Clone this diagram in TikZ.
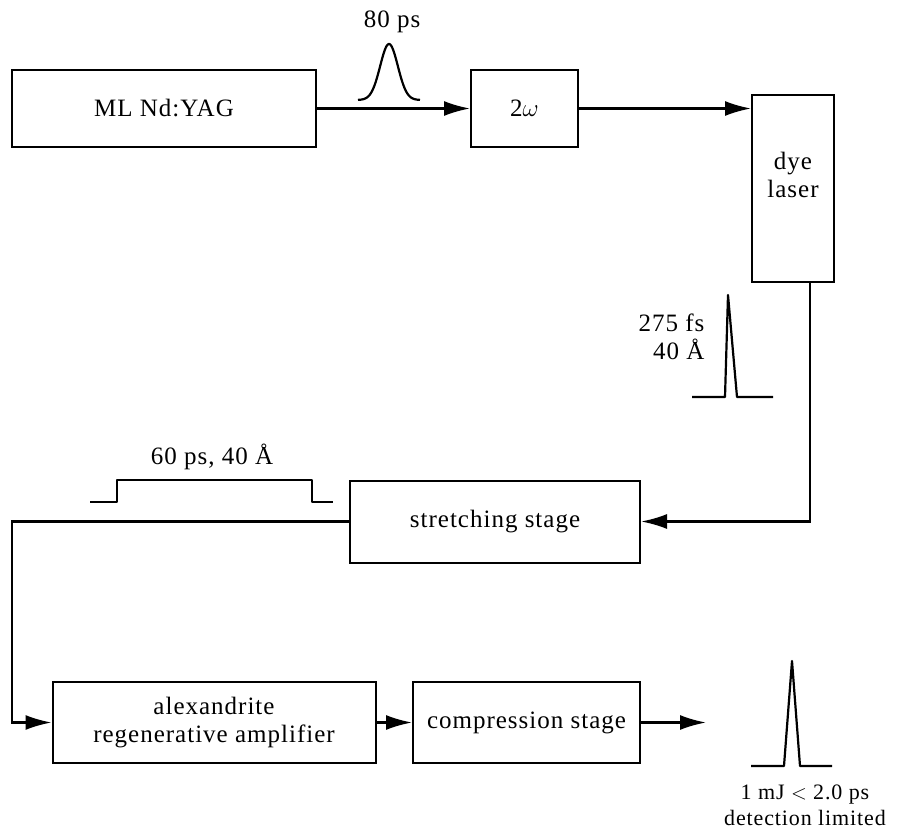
\documentclass[tikz,border=0pt]{standalone}
\usepackage{fontspec}
\setmainfont[LetterSpace=4]{Liberation Serif}
\usetikzlibrary{arrows.meta}

\begin{document}
\begin{tikzpicture}[x=1pt, y=-1pt,
                   every node/.style={font=\fontsize{25}{28}\selectfont, align=center},
                   box/.style={draw=black, line width=2pt, inner sep=0pt},
                   flow/.style={line width=2.2pt, -{Latex[length=26pt, width=15pt]}},
                   pulse/.style={line width=2.2pt, line join=round}]
\useasboundingbox (0,0) rectangle (897,834);
% laser chain
\node[box, minimum width=304pt, minimum height=77pt] (yag) at (164,108.5) {ML Nd:YAG};
\node[box, minimum width=107pt, minimum height=77pt] (dbl) at (524.5,108.5) {2$\omega$};
\node[box, minimum width=82pt, minimum height=187pt] (dye) at (793,188.5) {};
\node (dyetxt) at (793,175) {dye\\laser};
\node[box, minimum width=290pt, minimum height=82pt] (stretch) at (495,521.5) {stretching stage};
\node[box, minimum width=323pt, minimum height=81pt] (alex) at (214,722.5) {alexandrite\\regenerative amplifier};
\node[box, minimum width=227pt, minimum height=81pt] (comp) at (526.5,722.5) {compression stage};
\coordinate (bend) at (12,521.5);
\coordinate (out) at (706,722.5);
% connectors
\draw[flow] (yag.east) -- (dbl.west);
\draw[flow] (dbl.east) -- (dbl.east -| dye.west);
\draw[flow] ([xshift=17pt]dye.south) |- (stretch.east);
\draw[flow] (stretch.west) -- (bend) |- (alex.west);
\draw[flow] (alex.east) -- (comp.west);
\draw[flow] (comp.east) -- (out);
% pulses
\draw[pulse] plot[domain=-31:31, samples=60, smooth] ({389+\x},{100-56*exp(-(\x/12.5)^2)});
\node (lbl80) at (392,22) {80 ps};
\draw[pulse] (692,397) -- (725,397) -- (728,295) -- (737,397) -- (773,397);
\node[anchor=east, align=right] (lbl275) at (708,337) {275 fs\\40 Å};
\draw[pulse] (90,502) -- (117,502) -- (117,480) -- (312,480) -- (312,502) -- (333,502);
\node (lbl60) at (212,457) {60 ps, 40 Å};
\draw[pulse] (751,766) -- (784,766) -- (792,661) -- (800,766) -- (832,766);
\node[font=\fontsize{22}{26}\selectfont] (lblout) at (805,805) {1 mJ $<$ 2.0 ps\\detection limited};
\end{tikzpicture}
\end{document}
